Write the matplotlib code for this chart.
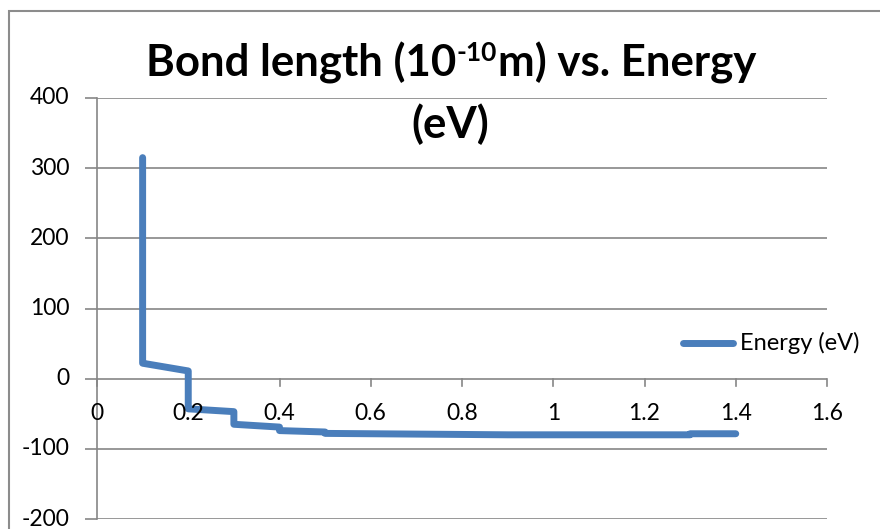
import matplotlib
matplotlib.use("Agg")
import matplotlib.pyplot as plt
from matplotlib.patches import Rectangle

plt.rcParams['font.family'] = ['Lato', 'DejaVu Sans']

# Data
bond_length = [0.1, 0.1, 0.1, 0.2, 0.2, 0.3, 0.3, 0.4, 0.4, 0.5, 0.5,
               0.6, 0.7, 0.8, 0.9, 1.0, 1.1, 1.2, 1.3, 1.3, 1.4]
energy = [315, 25, 22, 11, -43, -47, -65, -69, -74, -76, -78,
          -78.5, -79, -79.5, -80, -80, -80, -80, -80, -78.5, -78.5]
xticks = [0, 0.2, 0.4, 0.6, 0.8, 1, 1.2, 1.4, 1.6]
xtick_labels = ["0", "0.2", "0.4", "0.6", "0.8", "1", "1.2", "1.4", "1.6"]
yticks = [-200, -100, 0, 100, 200, 300, 400]
series_name = "Energy (eV)"
title_parts = ["Bond length (10", "-10", "m) vs. Energy"]
title_line2 = "(eV)"

W, H = 880, 529
fig = plt.figure(figsize=(W / 100, H / 100), dpi=100)

# outer chart border (extends past right/bottom edges)
fig.patches.append(Rectangle((9 / W, -0.1), 1.2, 1 - 11 / H + 0.1,
                             transform=fig.transFigure, fill=False,
                             edgecolor="#8c8c8c", linewidth=1.5))

left, right = 97, 827
top, bottom = 98, 519
ax = fig.add_axes([left / W, 1 - bottom / H, (right - left) / W, (bottom - top) / H])
ax.set_xlim(0, 1.6)
ax.set_ylim(-200, 400)

grid_c = "#868686"
for y in yticks:
    ax.axhline(y, color=grid_c, linewidth=1.2, zorder=1)

line_c = "#4a7ebb"
ax.plot(bond_length, energy, color=line_c, linewidth=5,
        solid_capstyle="round", solid_joinstyle="round", zorder=3,
        label=series_name)

for s in ["top", "right", "bottom"]:
    ax.spines[s].set_visible(False)
ax.spines["left"].set_color(grid_c)
ax.spines["left"].set_linewidth(1.2)
ax.spines["left"].set_position(("data", 0))

tick_fs = 16.5
ax.set_yticks(yticks)
ax.set_yticklabels([str(v) for v in yticks])
ax.tick_params(axis="y", direction="out", length=9, width=1.2, color=grid_c,
               labelsize=tick_fs, pad=11, labelcolor="black")
for lab in ax.get_yticklabels():
    lab.set_verticalalignment("center")

# x axis crosses at y=0
ax.set_xticks([])
for xv, lab in zip(xticks, xtick_labels):
    ax.plot([xv, xv], [0, -11], color=grid_c, linewidth=1.2, zorder=2,
            clip_on=False)
    ax.text(xv, -50, lab, ha="center", va="center", fontsize=tick_fs,
            color="black", zorder=4)

# title with real superscript, built from pieces
title_fs = 31.5
sup_fs = 19
renderer = fig.canvas.get_renderer()
t0 = fig.text(0, 0, title_parts[0], fontsize=title_fs, fontweight="bold", va="baseline")
t1 = fig.text(0, 0, title_parts[1], fontsize=sup_fs, fontweight="bold", va="baseline")
t2 = fig.text(0, 0, title_parts[2], fontsize=title_fs, fontweight="bold", va="baseline")
w0 = t0.get_window_extent(renderer).width
w1 = t1.get_window_extent(renderer).width
w2 = t2.get_window_extent(renderer).width
total = w0 + w1 + w2
cx = 450
base_y = H - 76
x0 = cx - total / 2
t0.set_position((x0 / W, base_y / H))
t1.set_position(((x0 + w0 + 1) / W, (base_y + 15) / H))
t2.set_position(((x0 + w0 + w1 + 2) / W, base_y / H))

fig.text(cx / W, 1 - 124 / H, title_line2, ha="center", va="center",
         fontsize=title_fs, fontweight="bold")

# legend
fig.lines.append(plt.Line2D([683 / W, 733 / W], [1 - 343 / H, 1 - 343 / H],
                            transform=fig.transFigure, color=line_c,
                            linewidth=5, solid_capstyle="round"))
fig.text(740 / W, 1 - 343 / H, series_name, ha="left", va="center", fontsize=17)

fig.savefig("out.png", dpi=100)
